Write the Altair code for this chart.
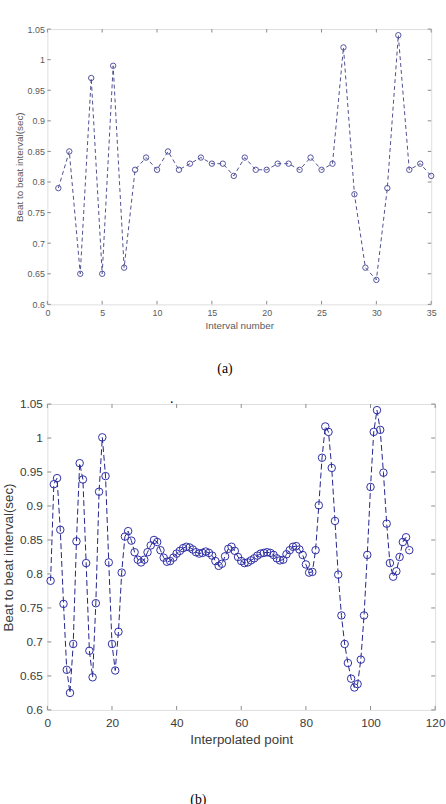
import altair as alt
import pandas as pd

# (a) measured beat-to-beat intervals
interval_number = list(range(1, 36))
interval_sec = [0.79, 0.85, 0.65, 0.97, 0.65, 0.99, 0.66, 0.82, 0.84, 0.82,
                0.85, 0.82, 0.83, 0.84, 0.83, 0.83, 0.81, 0.84, 0.82, 0.82,
                0.83, 0.83, 0.82, 0.84, 0.82, 0.83, 1.02, 0.78, 0.66, 0.64,
                0.79, 1.04, 0.82, 0.83, 0.81]

# (b) interpolated series
interp_point = list(range(1, 113))
interp_sec = [0.790, 0.932, 0.941, 0.865, 0.756, 0.659, 0.625, 0.697, 0.848, 0.963,
              0.939, 0.816, 0.687, 0.648, 0.757, 0.921, 1.001, 0.944, 0.817, 0.697,
              0.658, 0.715, 0.802, 0.855, 0.863, 0.849, 0.832, 0.821, 0.817, 0.821,
              0.832, 0.842, 0.850, 0.847, 0.835, 0.824, 0.818, 0.819, 0.824, 0.830,
              0.834, 0.838, 0.840, 0.839, 0.836, 0.832, 0.830, 0.831, 0.833, 0.831,
              0.827, 0.819, 0.812, 0.815, 0.826, 0.837, 0.840, 0.834, 0.825, 0.819,
              0.816, 0.817, 0.820, 0.823, 0.827, 0.830, 0.831, 0.832, 0.831, 0.828,
              0.823, 0.820, 0.821, 0.829, 0.835, 0.840, 0.841, 0.836, 0.828, 0.814,
              0.802, 0.803, 0.835, 0.901, 0.971, 1.017, 1.009, 0.956, 0.878, 0.799,
              0.739, 0.697, 0.669, 0.646, 0.633, 0.638, 0.674, 0.739, 0.828, 0.928,
              1.009, 1.041, 1.012, 0.949, 0.874, 0.816, 0.796, 0.804, 0.825, 0.847,
              0.854, 0.835]

# axis tick positions
xticks_a = [0, 5, 10, 15, 20, 25, 30, 35]
xticks_b = [0, 20, 40, 60, 80, 100, 120]
yticks = [0.6, 0.65, 0.7, 0.75, 0.8, 0.85, 0.9, 0.95, 1.0, 1.05]

FONT = "Liberation Sans"
FRAME = "#8a8a8a"


def panel(xs, ys, xdomain, xticks, W, H, xtitle, captions,
          label_size, title_size, text_color, label_pad_x, title_pad_x,
          label_pad_y, title_pad_y, line_color, point_color, point_size,
          dash, tick_len):
    df = pd.DataFrame({"n": xs, "v": ys})
    xscale = alt.Scale(domain=xdomain, nice=False, zero=False)
    yscale = alt.Scale(domain=[0.6, 1.05], nice=False, zero=False)

    common_axis = dict(grid=False, ticks=False, domain=False,
                       labelFont=FONT, titleFont=FONT,
                       labelFontSize=label_size, titleFontSize=title_size,
                       labelColor=text_color, titleColor=text_color,
                       titleFontWeight="normal", labelFlush=False)
    xaxis = alt.Axis(values=xticks, title=xtitle, format="d",
                     labelPadding=label_pad_x, titlePadding=title_pad_x,
                     **common_axis)
    yaxis = alt.Axis(values=yticks, format="~g",
                     title="Beat to beat interval(sec)",
                     labelPadding=label_pad_y, titlePadding=title_pad_y,
                     **common_axis)

    base = alt.Chart(df).encode(
        x=alt.X("n:Q", scale=xscale, axis=xaxis),
        y=alt.Y("v:Q", scale=yscale, axis=yaxis),
    )
    line = base.mark_line(color=line_color, strokeWidth=1, strokeDash=dash)
    pts = base.mark_point(shape="circle", filled=False, size=point_size,
                          strokeWidth=1, color=point_color, opacity=1)

    # inward tick marks on all four sides of the box
    tx = pd.DataFrame({"n": xticks})
    ty = pd.DataFrame({"v": yticks})
    xb = alt.Chart(tx).mark_rule(color=FRAME, strokeWidth=1).encode(
        x=alt.X("n:Q", scale=xscale, axis=xaxis),
        y=alt.value(H), y2=alt.value(H - tick_len))
    xt = alt.Chart(tx).mark_rule(color=FRAME, strokeWidth=1).encode(
        x=alt.X("n:Q", scale=xscale, axis=xaxis),
        y=alt.value(0), y2=alt.value(tick_len))
    yl = alt.Chart(ty).mark_rule(color=FRAME, strokeWidth=1).encode(
        y=alt.Y("v:Q", scale=yscale, axis=yaxis),
        x=alt.value(0), x2=alt.value(tick_len))
    yr = alt.Chart(ty).mark_rule(color=FRAME, strokeWidth=1).encode(
        y=alt.Y("v:Q", scale=yscale, axis=yaxis),
        x=alt.value(W), x2=alt.value(W - tick_len))

    layers = [line, pts, xb, xt, yl, yr]
    # serif caption text placed around the panel
    for text, (cx, cy), baseline in captions:
        layers.append(alt.Chart(pd.DataFrame({"c": [text]})).mark_text(
            font="Liberation Serif", fontSize=14, color="black",
            baseline=baseline, align="center").encode(
            text="c:N", x=alt.value(cx), y=alt.value(cy)))

    return alt.layer(*layers).properties(width=W, height=H)


chart_a = panel(interval_number, interval_sec, [0, 35], xticks_a, 389, 279,
                "Interval number", [("(a)", (180, 345), "middle")],
                label_size=9, title_size=10, text_color="#5a5a5a",
                label_pad_x=4, title_pad_x=3, label_pad_y=3, title_pad_y=3,
                line_color="#4e4e8e", point_color="#52529e", point_size=30,
                dash=[4, 3], tick_len=3.5)

chart_b = panel(interp_point, interp_sec, [0, 120], xticks_b, 393, 310,
                "Interpolated point",
                [("(b)", (153, 401), "middle"), (".", (126, -1), "alphabetic")],
                label_size=12, title_size=13.5, text_color="#3c3c3c",
                label_pad_x=8, title_pad_x=4, label_pad_y=5, title_pad_y=4,
                line_color="#22228a", point_color="#2e2ea6", point_size=58,
                dash=[6, 3], tick_len=4)

chart = alt.vconcat(chart_a, chart_b, spacing=101, bounds="flush").properties(
    padding={"left": 1, "top": 19, "right": 0, "bottom": 0}
).configure_view(stroke=FRAME, strokeWidth=1).configure(background="white")

chart.save("out.html", embed_options={"renderer": "svg", "actions": False})
